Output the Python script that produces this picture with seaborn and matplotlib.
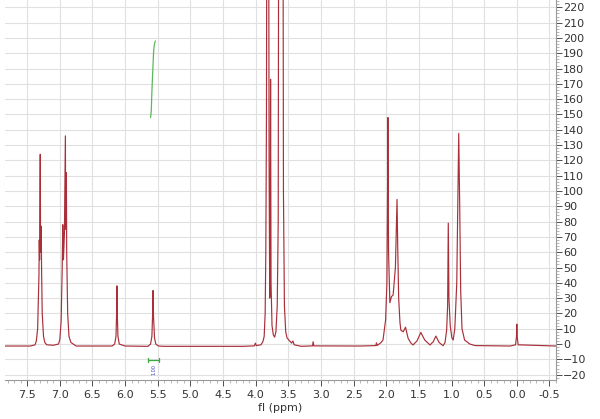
import matplotlib
matplotlib.use('Agg')
import matplotlib.pyplot as plt
import numpy as np
import pandas as pd
import seaborn as sns
from matplotlib.ticker import MultipleLocator

# spectrum trace (ppm, intensity), high ppm -> low ppm
ppm = [7.84, 7.45, 7.38, 7.36, 7.34, 7.32, 7.315, 7.31, 7.30, 7.295, 7.285, 7.28, 7.27, 7.25, 7.23, 7.20,
       7.10, 7.02, 7.00, 6.98, 6.965, 6.955, 6.945, 6.93, 6.915, 6.91, 6.90, 6.895, 6.88, 6.86, 6.83, 6.75,
       6.20, 6.16, 6.14, 6.13, 6.125, 6.12, 6.11, 6.09, 6.00,
       5.65, 5.61, 5.59, 5.58, 5.572, 5.565, 5.55, 5.53, 5.49, 5.40,
       4.20, 4.02, 4.005, 3.99, 3.92, 3.89, 3.87, 3.855, 3.845, 3.835, 3.825, 3.805, 3.795, 3.785,
       3.78, 3.772, 3.765, 3.75, 3.73, 3.71, 3.69, 3.67, 3.655, 3.645, 3.585, 3.575, 3.56, 3.54, 3.52,
       3.48, 3.45, 3.43, 3.41, 3.30, 3.13, 3.12, 3.11, 2.40, 2.16, 2.15, 2.14,
       2.08, 2.05, 2.01, 1.99, 1.98, 1.975, 1.965, 1.945, 1.92, 1.895, 1.86, 1.845, 1.835, 1.825, 1.81, 1.79, 1.776,
       1.74, 1.705, 1.665, 1.62, 1.59, 1.53, 1.47, 1.44, 1.41, 1.33, 1.28, 1.24, 1.19, 1.13,
       1.10, 1.075, 1.06, 1.05, 1.04, 1.02, 0.995, 0.975, 0.95, 0.92, 0.905, 0.89, 0.875, 0.86, 0.84, 0.80,
       0.72, 0.64, 0.10, 0.02, 0.005, 0.0, -0.005, -0.02, -0.60]
intensity = [-1.3, -1.3, -0.5, 2, 10, 45, 68, 55, 124, 60, 77, 50, 20, 5, 1, -0.5,
             -0.8, 0, 3, 15, 47, 78, 55, 72, 136, 75, 112, 60, 20, 5, 1, -1.3,
             -1.3, 0, 5, 20, 38, 20, 5, 0, -1.3,
             -1.5, 0, 5, 18, 35, 18, 4, 0, -1.3, -1.5,
             -1.5, -1.2, 0.6, -1.0, -0.5, 1.5, 5, 20, 60, 150, 400, 400, 120, 30,
             35, 173, 40, 12, 6, 4.5, 8, 25, 80, 400, 400, 100, 25, 8, 4,
             2, 0.6, 2, -0.5, -1.5, -1.2, 1.5, -1.2, -1.3, -1.0, 0.8, -1.0,
             1, 2.6, 15.7, 40, 100, 148, 60, 27, 31, 32, 50, 75, 94.5, 65, 30, 14, 9,
             8, 11, 3.7, 0.5, -0.6, 2, 7.6, 5, 2.6, -0.6, 1.5, 5.2, 1, -1.1,
             1, 9, 25, 79, 30, 12, 4, 2.6, 10, 40, 90, 137.7, 90, 35, 10, 2.6,
             0, -1, -1.3, -0.5, 5, 13, 5, -0.5, -1.3]

# integral curve and bracket around 5.57 ppm
int_ppm = [5.61, 5.60, 5.59, 5.575, 5.565, 5.555, 5.545, 5.535]
int_val = [148, 152, 165, 180, 190, 195, 197, 198]
int_label = '1.00'

xtick_vals = [7.5, 7.0, 6.5, 6.0, 5.5, 5.0, 4.5, 4.0, 3.5, 3.0, 2.5, 2.0, 1.5, 1.0, 0.5, 0.0, -0.5]
ytick_vals = list(range(-20, 221, 10))

spec = pd.DataFrame({'ppm': ppm, 'intensity': intensity})
integ = pd.DataFrame({'ppm': int_ppm, 'value': int_val})

sns.set_theme(style='whitegrid')
plt.rcParams['font.family'] = ['DejaVu Sans']

fig = plt.figure(figsize=(6.0, 4.19), dpi=100)
ax = fig.add_axes([5 / 600, 39 / 419, 551 / 600, 380 / 419])

sns.lineplot(data=spec, x='ppm', y='intensity', sort=False, estimator=None,
             color='#a92f39', linewidth=0.85, ax=ax)
sns.lineplot(data=integ, x='ppm', y='value', sort=False, estimator=None,
             color='#5cb85c', linewidth=0.9, ax=ax)

# integral bracket
ax.plot([5.65, 5.48], [-10.5, -10.5], color='#3aa83a', linewidth=0.9)
ax.plot([5.65, 5.65], [-12, -9], color='#3aa83a', linewidth=0.9)
ax.plot([5.48, 5.48], [-12, -9], color='#3aa83a', linewidth=0.9)
ax.text(5.565, -13, int_label, rotation=90, fontsize=3.5, color='#4040c0',
        ha='center', va='top')

ax.set_xlim(7.84, -0.60)
ax.set_ylim(-23.5, 224.8)
ax.set_xticks(xtick_vals)
ax.set_xticklabels([f'{v:.1f}' for v in xtick_vals])
ax.xaxis.set_minor_locator(MultipleLocator(0.1))
ax.set_yticks(ytick_vals)
ax.yaxis.set_minor_locator(MultipleLocator(2))
ax.yaxis.tick_right()

ax.grid(True, which='major', color='#e0e0e0', linewidth=0.8)
ax.grid(False, which='minor')
ax.set_facecolor('white')
for side in ['left', 'top']:
    ax.spines[side].set_visible(False)
for side in ['right', 'bottom']:
    ax.spines[side].set_color('#999999')
    ax.spines[side].set_linewidth(0.8)

ax.tick_params(axis='both', which='major', labelsize=8, colors='#333333',
               length=4, width=0.6, direction='out')
ax.tick_params(axis='both', which='minor', length=2, width=0.5, colors='#999999')
ax.tick_params(axis='y', which='both', left=False, right=True, pad=1)
ax.tick_params(axis='x', which='both', bottom=True, top=False, pad=3)

ax.set_xlabel('fl (ppm)', fontsize=8, color='#333333', labelpad=2)
ax.set_ylabel('')

fig.savefig('out.png', dpi=100)
